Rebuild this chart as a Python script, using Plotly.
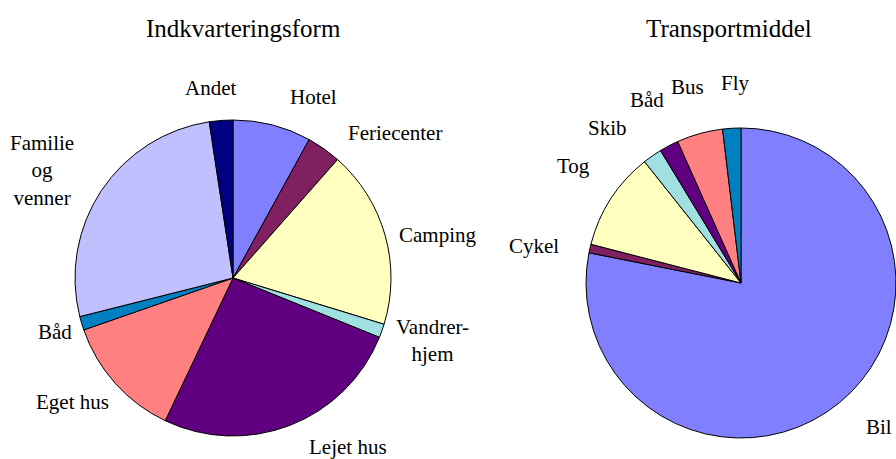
import plotly.graph_objects as go

# ---- data ----
accom_labels = ["Hotel", "Feriecenter", "Camping", "Vandrerhjem", "Lejet hus",
                "Eget hus", "Båd", "Familie og venner", "Andet"]
accom_text = ["Hotel", "Feriecenter", "Camping", "Vandrer-<br>hjem", "Lejet hus",
              "Eget hus", "Båd", "Familie<br>og<br>venner", "Andet"]
accom_values = [8.0, 3.5, 18.2, 1.4, 25.9, 12.6, 1.4, 26.5, 2.4]

trans_labels = ["Bil", "Cykel", "Tog", "Skib", "Båd", "Bus", "Fly"]
trans_values = [78.2, 0.9, 10.3, 2.0, 2.0, 4.8, 1.9]

titles = ["Indkvarteringsform", "Transportmiddel"]

# ---- styles ----
accom_colors = ["#8080FF", "#802060", "#FFFFC0", "#A0E0E0", "#600080",
                "#FF8080", "#0080C0", "#C0C0FF", "#000080"]
trans_colors = ["#8080FF", "#802060", "#FFFFC0", "#A0E0E0", "#600080",
                "#FF8080", "#0080C0"]

W, H = 896, 459
FONT = "Liberation Serif, Times New Roman, serif"

# label positions (pixel, from top-left)
accom_pos = [(313, 97), (395, 133), (437, 235), (432, 340), (348, 447),
             (72, 402), (55, 332), (42, 170), (210, 88)]
trans_pos = [(879, 427), (534, 246), (573, 166), (607, 128), (647, 100),
             (687, 87), (735, 83)]
title_pos = [(244, 28), (729, 28)]


def dom(cx, cy, r):
    return dict(x=[max(0, (cx - r) / W), min(1, (cx + r) / W)],
                y=[max(0, 1 - (cy + r) / H), min(1, 1 - (cy - r) / H)])


fig = go.Figure()
fig.add_trace(go.Pie(labels=accom_labels, values=accom_values, sort=False,
                     direction="clockwise", rotation=0, textinfo="none",
                     marker=dict(colors=accom_colors, line=dict(color="black", width=1)),
                     domain=dom(233, 278, 158), showlegend=False, hoverinfo="label+percent"))
fig.add_trace(go.Pie(labels=trans_labels, values=trans_values, sort=False,
                     direction="clockwise", rotation=0, textinfo="none",
                     marker=dict(colors=trans_colors, line=dict(color="black", width=1)),
                     domain=dom(741, 283, 155), showlegend=False, hoverinfo="label+percent"))

annotations = []
for txt, (x, y) in zip(accom_text, accom_pos):
    annotations.append(dict(text=txt, x=x / W, y=1 - y / H, xref="paper", yref="paper",
                            showarrow=False, xanchor="center", yanchor="middle",
                            font=dict(family=FONT, size=21, color="black")))
for txt, (x, y) in zip(trans_labels, trans_pos):
    annotations.append(dict(text=txt, x=x / W, y=1 - y / H, xref="paper", yref="paper",
                            showarrow=False, xanchor="center", yanchor="middle",
                            font=dict(family=FONT, size=21, color="black")))
for txt, (x, y) in zip(titles, title_pos):
    annotations.append(dict(text=txt, x=x / W, y=1 - y / H, xref="paper", yref="paper",
                            showarrow=False, xanchor="center", yanchor="middle",
                            font=dict(family=FONT, size=25, color="black")))

fig.update_layout(width=W, height=H, margin=dict(l=0, r=0, t=0, b=0),
                  paper_bgcolor="white", plot_bgcolor="white",
                  annotations=annotations)

fig.write_html("out.html", config={"displayModeBar": False},
               post_script="document.body.style.margin='0';document.body.style.overflow='hidden';")
